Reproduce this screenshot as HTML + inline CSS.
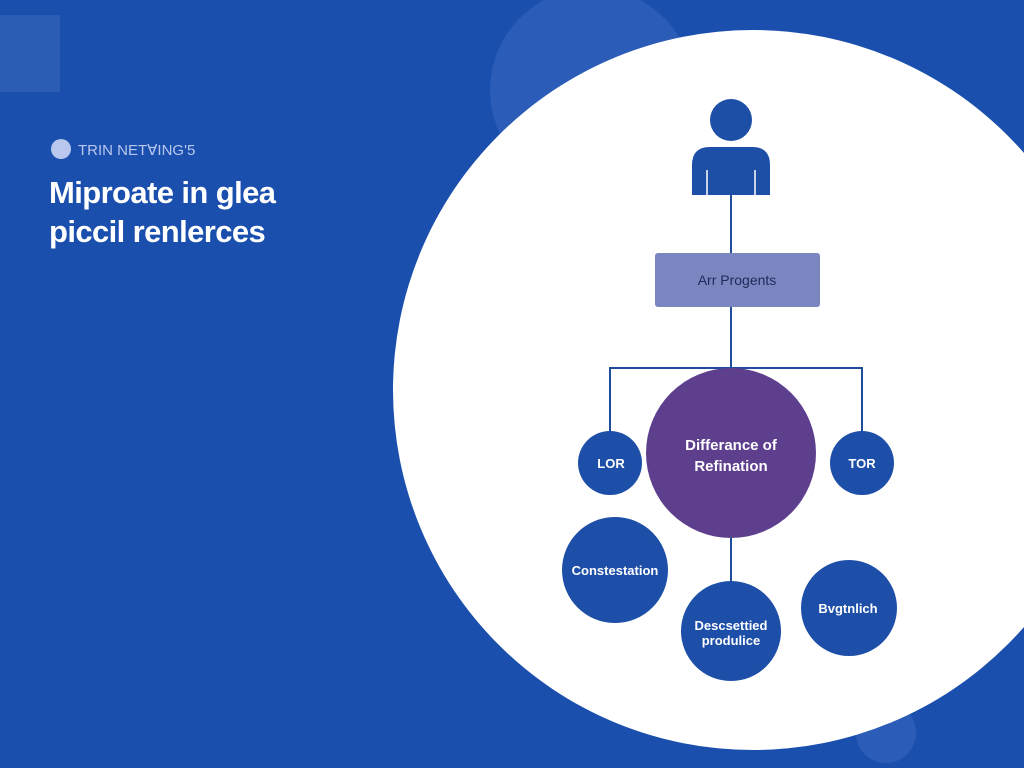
<!DOCTYPE html>
<html><head><meta charset="utf-8"><style>
html,body{margin:0;padding:0;}
body{width:1024px;height:768px;overflow:hidden;background:#1a4fae;font-family:"Liberation Sans",sans-serif;position:relative;}
</style></head><body>
<svg width="1024" height="768" style="position:absolute;left:0;top:0">
<rect x="0" y="15" width="60" height="77" fill="#2c5db5"/>
<circle cx="592" cy="90" r="102" fill="#2a5cb8"/>
<circle cx="886" cy="733" r="30" fill="#2a5cb8"/>
<circle cx="753" cy="390" r="360" fill="#ffffff"/>
<circle cx="61" cy="149" r="10" fill="#b9c6ee"/>
<text x="78" y="155" fill="#b9c6ee" font-size="15">TRIN NETⱯING'5</text>
<text x="49" y="203" fill="#fff" font-size="31" font-weight="bold" letter-spacing="-0.6">Miproate in glea</text>
<text x="49" y="242" fill="#fff" font-size="31" font-weight="bold" letter-spacing="-0.6">piccil renlerces</text>
<g stroke="#1f4d9e" stroke-width="2" fill="none">
<line x1="731" y1="190" x2="731" y2="253"/>
<line x1="731" y1="307" x2="731" y2="368"/>
<polyline points="610,440 610,368 862,368 862,440"/>
<line x1="731" y1="530" x2="731" y2="585"/>
</g>
<circle cx="731" cy="120" r="21" fill="#1e4fa6"/>
<path d="M692 195 V165 Q692 147 710 147 H752 Q770 147 770 165 V195 Z" fill="#1e4fa6"/>
<line x1="707" y1="170" x2="707" y2="195" stroke="#fff" stroke-width="1.5"/>
<line x1="755" y1="170" x2="755" y2="195" stroke="#fff" stroke-width="1.5"/>
<rect x="655" y="253" width="165" height="54" rx="3" fill="#7b85c0"/>
<text x="737" y="285" fill="#1f2a5a" font-size="14" text-anchor="middle">Arr Progents</text>
<circle cx="731" cy="453" r="85" fill="#5e3f8e"/>
<text x="731" y="450" fill="#fff" font-size="15" font-weight="bold" text-anchor="middle">Differance of</text>
<text x="731" y="471" fill="#fff" font-size="15" font-weight="bold" text-anchor="middle">Refination</text>
<g fill="#1e4fa8">
<circle cx="610" cy="463" r="32"/>
<circle cx="862" cy="463" r="32"/>
<circle cx="615" cy="570" r="53"/>
<circle cx="731" cy="631" r="50"/>
<circle cx="849" cy="608" r="48"/>
</g>
<g fill="#fff" font-size="13" font-weight="bold" text-anchor="middle">
<text x="611" y="468">LOR</text>
<text x="862" y="468">TOR</text>
<text x="615" y="575">Constestation</text>
<text x="731" y="630">Descsettied</text>
<text x="731" y="645">produlice</text>
<text x="848" y="613">Bvgtnlich</text>
</g>
</svg>
</body></html>
